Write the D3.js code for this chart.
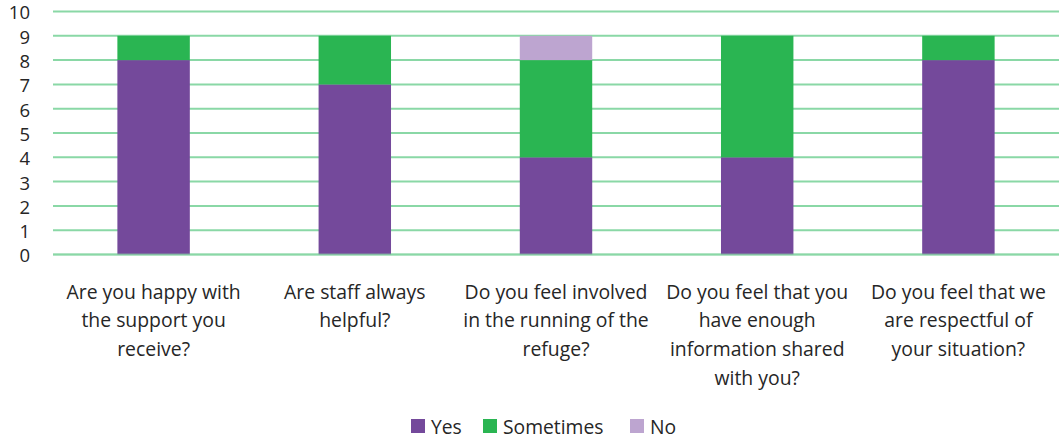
<!DOCTYPE html>
<html>
<head>
<meta charset="utf-8">
<script src="https://cdn.jsdelivr.net/npm/d3@7"></script>
<style>
  html, body { margin: 0; padding: 0; background: #fff; }
  svg text { font-family: "Open Sans", Lato, sans-serif; fill: #262626; }
</style>
</head>
<body>
<svg id="chart" width="1059" height="438"></svg>
<script>
// Survey questions (x categories), split into wrapped lines
const categories = [
  ["Are you happy with", "the support you", "receive?"],
  ["Are staff always", "helpful?"],
  ["Do you feel involved", "in the running of the", "refuge?"],
  ["Do you feel that you", "have enough", "information shared", "with you?"],
  ["Do you feel that we", "are respectful of", "your situation?"]
];
const seriesNames = ["Yes", "Sometimes", "No"];
const yesValues = [8, 7, 4, 4, 8];
const sometimesValues = [1, 2, 4, 5, 1];
const noValues = [0, 0, 1, 0, 0];
const yTicks = [0, 1, 2, 3, 4, 5, 6, 7, 8, 9, 10];

const colors = { "Yes": "#74499b", "Sometimes": "#2ab552", "No": "#bda5d0" };
const gridColor = "#8ad8a6";

const svg = d3.select("#chart");
const margin = { left: 53, right: 0 };
const W = 1059;
const y0 = 254.5, y10 = 11.5;

const keys = categories.map((c, i) => i);
const x = d3.scaleBand().domain(keys).range([margin.left, W - margin.right]).paddingInner(0.64).paddingOuter(0.32);
const y = d3.scaleLinear().domain([0, 10]).range([y0, y10]);

const rows = keys.map(i => ({ key: i, Yes: yesValues[i], Sometimes: sometimesValues[i], No: noValues[i] }));
const stacked = d3.stack().keys(seriesNames)(rows);

// Gridlines
svg.append("g").selectAll("line").data(yTicks).join("line")
  .attr("x1", margin.left).attr("x2", W)
  .attr("y1", d => y(d)).attr("y2", d => y(d))
  .attr("stroke", gridColor).attr("stroke-width", 2);

// Stacked bars
svg.append("g").selectAll("g").data(stacked).join("g")
  .attr("fill", d => colors[d.key])
  .selectAll("rect").data(d => d).join("rect")
  .attr("x", d => x(d.data.key))
  .attr("width", x.bandwidth())
  .attr("y", d => y(d[1]))
  .attr("height", d => y(d[0]) - y(d[1]));

// Baseline drawn over bars
svg.append("line")
  .attr("x1", margin.left).attr("x2", W)
  .attr("y1", y(0)).attr("y2", y(0))
  .attr("stroke", gridColor).attr("stroke-width", 2).attr("opacity", 0.6);

// Y axis labels
const yAxis = d3.axisLeft(y).tickValues(yTicks).tickSize(0).tickPadding(0);
const ya = svg.append("g").attr("transform", "translate(30,0)").call(yAxis);
ya.select(".domain").remove();
ya.selectAll("text").attr("font-size", 18.5).attr("font-family", "'Open Sans', sans-serif").attr("fill", "#262626").attr("dy", "0.4em");

// Category labels
const lab = svg.append("g").selectAll("text").data(categories).join("text")
  .attr("text-anchor", "middle")
  .attr("font-size", 19.4)
  .attr("transform", (d, i) => `translate(${x(i) + x.bandwidth() / 2},298.5)`);
lab.selectAll("tspan").data(d => d).join("tspan")
  .attr("x", 0).attr("dy", (d, j) => j === 0 ? 0 : 28.7)
  .text(d => d);

// Legend
const legendX = [411, 483, 630];
const lg = svg.append("g").selectAll("g").data(seriesNames).join("g")
  .attr("transform", (d, i) => `translate(${legendX[i]},419)`);
lg.append("rect").attr("width", 14).attr("height", 14).attr("fill", d => colors[d]);
lg.append("text").attr("x", 20).attr("y", 14.5).attr("font-size", 19.3).text(d => d);
</script>
</body>
</html>
